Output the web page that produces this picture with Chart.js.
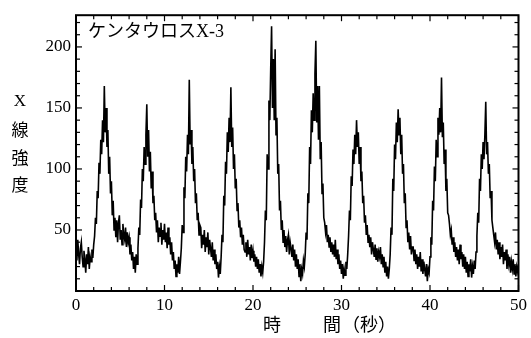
<!DOCTYPE html>
<html><head><meta charset="utf-8">
<script src="https://cdn.jsdelivr.net/npm/chart.js@4/dist/chart.umd.min.js"></script>
<style>html,body{margin:0;padding:0;background:#fff;}#wrap{width:531px;height:338px;}</style>
</head><body><div id="wrap"><canvas id="c" width="531" height="338"></canvas></div>
<script>
// time grid of the light curve (seconds)
const startTime = 0;
const sampleStep = 0.1;
// X-ray counts, one value per 0.1 s, 0 s .. 50 s
const counts = [
38,25,42,30,22,35,40,28,20,33,26,15,30,22,36,18,28,24,34,27,38,
45,60,55,82,76,105,96,124,112,
140,122,168,130,150,118,132,96,110,80,90,
62,74,50,60,44,58,40,56,62,42,
50,38,55,46,42,52,36,48,40,44,
30,38,25,32,18,28,15,30,22,
35,52,46,75,68,100,90,118,104,128,153,
110,132,98,114,84,98,72,78,58,64,
48,58,40,52,45,56,38,50,42,55,
40,48,35,52,38,44,30,40,25,32,
18,25,12,22,15,28,14,24,
35,54,48,85,76,110,98,128,112,173,120,132,
104,118,90,100,72,80,58,64,46,54,
52,35,46,38,50,32,44,36,48,30,
42,35,28,40,25,34,22,30,18,24,11,20,14,
28,46,40,78,70,106,96,130,114,142,122,167,
118,134,100,112,84,92,66,72,52,58,44,52,38,46,34,
32,40,28,42,30,36,25,38,27,33,
24,30,20,28,18,26,15,22,12,20,15,24,
40,66,58,112,100,156,140,182,217,150,190,140,198,
128,142,96,104,66,74,50,58,40,50,36,45,32,42,46,
30,40,35,28,38,25,34,20,30,18,26,12,22,8,18,14,25,20,
30,48,42,80,72,118,104,148,130,162,140,178,205,
138,168,124,168,108,122,80,88,60,
56,48,54,40,46,36,44,32,40,30,
38,28,42,26,34,22,30,18,25,14,
22,10,18,13,24,18,30,
45,66,58,94,86,116,104,128,112,140,118,130,104,
118,90,98,72,78,56,62,46,54,40,
46,36,44,30,40,34,28,38,26,35,
24,32,28,36,22,30,20,28,15,24,12,20,10,18,
30,52,46,92,82,120,108,138,122,149,128,142,112,128,96,104,
72,80,52,58,40,48,34,45,30,36,
36,25,34,22,30,18,28,20,32,16,
26,14,24,18,12,22,8,18,15,
28,44,38,74,66,102,90,124,110,142,128,
150,130,175,126,138,104,116,82,92,64,
62,55,46,50,38,44,32,40,28,36,
25,34,22,38,26,32,20,30,18,28,
15,24,12,22,16,26,11,20,14,25,18,32,
45,64,56,92,82,112,100,122,108,128,155,
112,122,96,104,76,82,58,
52,46,40,48,34,42,30,40,26,36,
28,38,22,32,25,34,18,30,22,28,
15,24,18,26,14,22,12,20,16,22
];
const xTickLabels = [0,10,20,30,40,50];
const yTickLabels = [50,100,150,200];
const xMinorStep = 2;
const yMinorStep = 10;
const titleText = 'ケンタウロスX-3';
const yTitleChars = ['X','線','強','度'];
const xTitleParts = ['時','間','（秒）'];

const FONT = '"Liberation Serif","Noto Sans CJK JP",serif';
const points = counts.map((v,i)=>({x: Math.round((startTime + i*sampleStep)*10)/10, y: v}));

const framePlugin = {
  id:'frame',
  afterDraw(chart){
    const {ctx, chartArea:a, scales:{x,y}} = chart;
    ctx.save();
    ctx.strokeStyle='#000';
    ctx.lineWidth=1.2;
    const seg=(x1,y1,x2,y2)=>{ctx.beginPath();ctx.moveTo(x1,y1);ctx.lineTo(x2,y2);ctx.stroke();};
    for(let v=x.min; v<=x.max+1e-9; v+=xMinorStep){
      const p=x.getPixelForValue(v);
      const len = xTickLabels.includes(Math.round(v)) ? 6 : 4;
      seg(p,a.bottom,p,a.bottom-len); seg(p,a.top,p,a.top+len);
    }
    for(let v=y.min+yMinorStep; v<=y.max+1e-9; v+=yMinorStep){
      const p=y.getPixelForValue(v);
      const len = yTickLabels.includes(Math.round(v)) ? 6 : 4;
      seg(a.left,p,a.left+len,p); seg(a.right,p,a.right-len,p);
    }
    ctx.lineWidth=2;
    ctx.strokeRect(a.left,a.top,a.right-a.left,a.bottom-a.top);
    ctx.fillStyle='#000';
    ctx.textBaseline='middle';
    ctx.textAlign='left';
    ctx.font='18px '+FONT;
    ctx.fillText(titleText, a.left+12, a.top+17);
    ctx.font='17px '+FONT;
    ctx.textAlign='center';
    const ys=[102,132,160,187];
    yTitleChars.forEach((c,i)=>ctx.fillText(c,20,ys[i]));
    ctx.font='18px '+FONT;
    ctx.fillText(xTitleParts[0],272,326);
    ctx.fillText(xTitleParts[1],332,326);
    ctx.textAlign='left';
    ctx.fillText(xTitleParts[2],342,326);
    ctx.restore();
  }
};

new Chart(document.getElementById('c'),{
  type:'line',
  data:{datasets:[{data:points,borderColor:'#000',borderWidth:1.6,pointRadius:0,tension:0,fill:false}]},
  options:{
    responsive:false, animation:false, parsing:false,
    layout:{padding:{left:0,right:10,top:11,bottom:0}},
    plugins:{legend:{display:false},tooltip:{enabled:false}},
    scales:{
      x:{type:'linear',min:0,max:50,
        afterBuildTicks:s=>{s.ticks=xTickLabels.map(v=>({value:v}));},
        afterFit:s=>{s.height=47;},
        grid:{display:false,drawTicks:false},border:{display:false},
        ticks:{color:'#000',font:{family:FONT,size:17},padding:4,maxRotation:0,autoSkip:false}},
      y:{type:'linear',min:0,max:226,
        afterBuildTicks:s=>{s.ticks=yTickLabels.map(v=>({value:v}));},
        afterFit:s=>{s.width=76;},
        grid:{display:false,drawTicks:false},border:{display:false},
        ticks:{color:'#000',font:{family:FONT,size:17},padding:5,autoSkip:false}}
    }
  },
  plugins:[framePlugin]
});
</script></body></html>
